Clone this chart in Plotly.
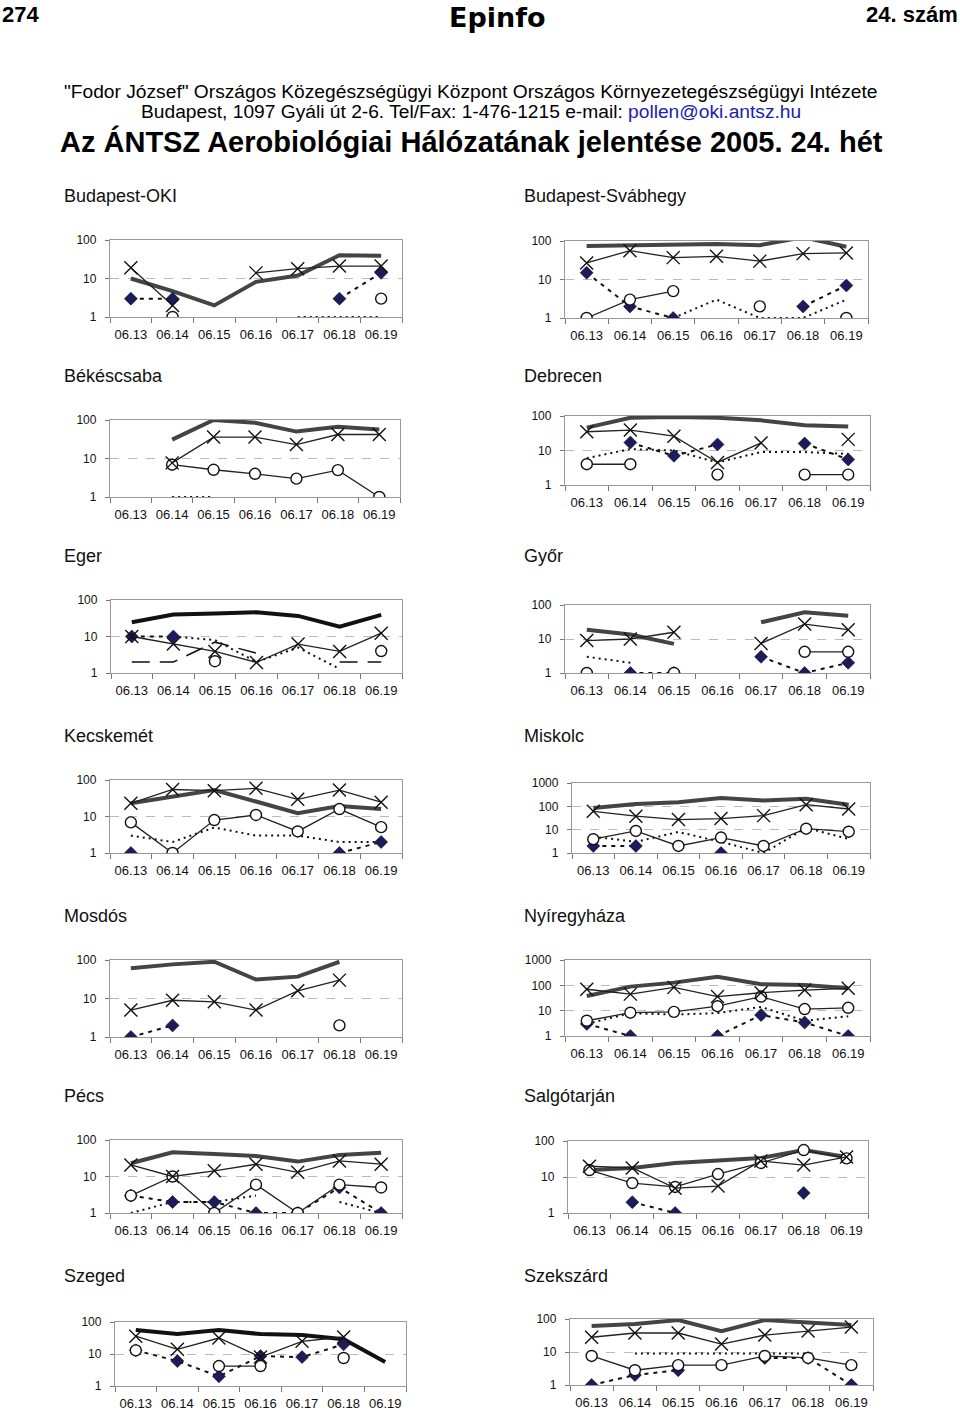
import plotly.graph_objects as go

DATES = ["06.13", "06.14", "06.15", "06.16", "06.17", "06.18", "06.19"]
N = None

# ---- data per station: thick (total), X, O, diamond, plain dotted ----
OKI_THICK = [10, 4.7, 2, 8.2, 12, 40, 39]
OKI_X = [19, 2, N, 14, 18, 21, 21]
OKI_O = [N, 1, N, N, N, N, 3]
OKI_D = [3, 3, N, N, N, 3, 14]
OKI_DOT = [N, N, N, N, 1, 1, 1]

SVAB_THICK = [74, 78, 78, 84, 78, 125, 71]
SVAB_X = [27, 56, 37, 40, 30, 47, 49]
SVAB_O = [1, 3, 5, N, 2, N, 1]
SVAB_D = [15, 2, 1, N, N, 2, 7]
SVAB_DOT = [N, N, 1, 3, 1, 1, 3]

BEK_THICK = [N, 31, 100, 85, 50, 67, 57]
BEK_X = [N, 7.7, 36, 36, 23, 42, 42]
BEK_O = [N, 6.9, 5.1, 4, 3, 5, 1]
BEK_D = [N, N, N, N, N, N, N]
BEK_DOT = [N, 1, 1, N, N, N, N]

DEB_THICK = [46, 89, 93, 89, 75, 54, 50]
DEB_X = [35, 39, 26, 4.5, 16.6, N, 21]
DEB_O = [4, 4, N, 2, N, 2, 2]
DEB_D = [N, 17, 7, 15, N, 16, 5.5]
DEB_DOT = [6, 11, 10, 4.5, 9, 9, 8]

EGER_THICK = [24.6, 40, 43, 46, 36.6, 18.7, 39]
EGER_X = [10, 6.2, 3.9, 1.95, 6.2, 3.9, 12.3]
EGER_O = [N, N, 2.1, N, N, N, 4]
EGER_D = [10, 10, N, N, N, N, N]
EGER_DOT = [N, 10, 8, 2, 5, 1.3, N]
EGER_LONG = [2, 2, 7, 3.5, N, 2, 2]

GYOR_THICK = [18.8, 13.5, 7.2, N, 31, 61, 48]
GYOR_X = [9, 10, 15.8, N, 7.4, 27.5, 18.8]
GYOR_O = [1, N, 1, N, N, 4.2, 4.2]
GYOR_D = [N, 1, 1, N, 3, 1, 2]
GYOR_DOT = [3, 2, N, N, N, N, N]

KECS_THICK = [23, 35, 53, 25.7, 12.3, 19.5, 16]
KECS_X = [23, 55, 51, 59, 29.6, 53, 24.6]
KECS_O = [6.9, 1, 8, 11, 3.9, 16, 5.1]
KECS_D = [1, N, N, N, N, 1, 2]
KECS_DOT = [3, 2, 5, 3, 3, 2, 2]

MISK_THICK = [85, 125, 150, 225, 180, 210, 118]
MISK_X = [61, 38, 27, 30, 40, 118, 77]
MISK_O = [3.9, 8.8, 2, 4.6, 2, 11, 8.2]
MISK_D = [2, 2, N, 1, N, N, N]
MISK_DOT = [5, 3, 8, 3, 1, 12, 4]

MOSD_THICK = [61, 77, 90, 31, 37, 90, N]
MOSD_X = [5, 9, 8.2, 5, 15.8, 30, N]
MOSD_O = [N, N, N, N, N, 2, N]
MOSD_D = [1, 2, N, N, N, N, N]
MOSD_DOT = [N, N, N, N, N, N, N]

NYIR_THICK = [38, 89, 128, 220, 110, 103, 76]
NYIR_X = [70, 45, 83, 36, 51, 65, 76]
NYIR_O = [4, 8.3, 9, 15, 36, 11.6, 13]
NYIR_D = [3, 1, N, 1, 6.7, 3.4, 1]
NYIR_DOT = [3, 8, 7, 8, 14, 4, 6]

PECS_THICK = [23, 46, 41.5, 36.6, 25.6, 39, 45]
PECS_X = [20.8, 10, 14.3, 21.7, 13, 26.7, 21.7]
PECS_O = [3, 10, 1, 6, 1, 6, 5]
PECS_D = [3, 2, 2, 1, 1, 5, 1]
PECS_DOT = [1, 2, 2, 3, N, 2, 1]

SALG_THICK = [15.6, 17.8, 24.5, 29.6, 33.6, 56, 36]
SALG_X = [20, 17.8, 4.9, 5.6, 27.8, 21.5, 36]
SALG_O = [15.6, 6.8, 5.3, 12.1, 24.5, 56, 33]
SALG_D = [N, 2, 1, N, N, 3.6, N]
SALG_DOT = [N, N, N, N, N, N, N]

SZEG_THICK = [56, 42, 56, 42, 39, 29, 5.6]
SZEG_X = [36, 14, 31.6, 8, 25, 34, N]
SZEG_O = [13, N, 4.2, 4.2, N, 7.5, N]
SZEG_D = [13, 6, 2, 8.6, 8, 20, N]
SZEG_DOT = [N, N, N, N, N, N, N]

SZEK_THICK = [61, 70, 93, 43, 93, 81, 66]
SZEK_X = [28, 37.6, 37.6, 17.4, 32.6, 43, 57]
SZEK_O = [7.6, 2.8, 4, 4, 7.6, 6.6, 4]
SZEK_D = [1, 2, 2.8, N, 6.6, 6.6, 1]
SZEK_DOT = [N, 9, 9, 9, 9, 9, N]

STATIONS = [
    ("Budapest-OKI", OKI_THICK, OKI_X, OKI_O, OKI_D, OKI_DOT),
    ("Budapest-Svábhegy", SVAB_THICK, SVAB_X, SVAB_O, SVAB_D, SVAB_DOT),
    ("Békéscsaba", BEK_THICK, BEK_X, BEK_O, BEK_D, BEK_DOT),
    ("Debrecen", DEB_THICK, DEB_X, DEB_O, DEB_D, DEB_DOT),
    ("Eger", EGER_THICK, EGER_X, EGER_O, EGER_D, EGER_DOT),
    ("Győr", GYOR_THICK, GYOR_X, GYOR_O, GYOR_D, GYOR_DOT),
    ("Kecskemét", KECS_THICK, KECS_X, KECS_O, KECS_D, KECS_DOT),
    ("Miskolc", MISK_THICK, MISK_X, MISK_O, MISK_D, MISK_DOT),
    ("Mosdós", MOSD_THICK, MOSD_X, MOSD_O, MOSD_D, MOSD_DOT),
    ("Nyíregyháza", NYIR_THICK, NYIR_X, NYIR_O, NYIR_D, NYIR_DOT),
    ("Pécs", PECS_THICK, PECS_X, PECS_O, PECS_D, PECS_DOT),
    ("Salgótarján", SALG_THICK, SALG_X, SALG_O, SALG_D, SALG_DOT),
    ("Szeged", SZEG_THICK, SZEG_X, SZEG_O, SZEG_D, SZEG_DOT),
    ("Szekszárd", SZEK_THICK, SZEK_X, SZEK_O, SZEK_D, SZEK_DOT),
]
DECADES = [2, 2, 2, 2, 2, 2, 2, 3, 2, 3, 2, 2, 2, 2]

# ---- layout geometry (pixels): left, right, top, bottom of plot areas ----
W, H = 960, 1412
FRAMES = [
    (110, 402, 240, 317), (565, 868, 241, 318),
    (110, 400, 420, 497), (565, 870, 416, 485),
    (111, 402, 600, 673), (565, 870, 605, 673),
    (110, 402, 780, 853), (572, 870, 783, 853),
    (110, 402, 960, 1037), (565, 870, 960, 1036),
    (110, 402, 1140, 1213), (568, 868, 1141, 1213),
    (115, 406, 1322, 1386), (570, 873, 1319, 1385),
]
TITLE_Y = [196, 376, 556, 736, 916, 1096, 1276]
THICK_COL = ["#444"] * 14
THICK_COL[4] = "#111"
THICK_COL[12] = "#111"

FONT = "Liberation Sans, Arial, sans-serif"
fig = go.Figure()

for i, (name, thick, xs, os_, ds, dots) in enumerate(STATIONS):
    k = "" if i == 0 else str(i + 1)
    xa, ya = "x" + k, "y" + k
    L, R, T, B = FRAMES[i]
    common = dict(x=DATES, xaxis=xa, yaxis=ya, showlegend=False, connectgaps=False, hoverinfo="skip")
    fig.add_trace(go.Scatter(y=thick, mode="lines", line=dict(color=THICK_COL[i], width=4), **common))
    fig.add_trace(go.Scatter(y=dots, mode="lines", line=dict(color="#111", width=2, dash="2px,4px"), **common))
    if name == "Eger":
        fig.add_trace(go.Scatter(y=EGER_LONG, mode="lines", line=dict(color="#111", width=1.5, dash="18px,10px"), **common))
    fig.add_trace(go.Scatter(y=ds, mode="lines+markers", line=dict(color="#111", width=2, dash="4px,5px"),
                             marker=dict(symbol="diamond", size=10, color="#1b1b5e", line=dict(color="#000", width=0.5)), **common))
    fig.add_trace(go.Scatter(y=os_, mode="lines+markers", line=dict(color="#222", width=1.3),
                             marker=dict(symbol="circle", size=11, color="white", line=dict(color="#111", width=1.4)), **common))
    fig.add_trace(go.Scatter(y=xs, mode="lines+markers", line=dict(color="#222", width=1.3),
                             marker=dict(symbol="x-thin", size=13, color="#111", line=dict(color="#111", width=1.4)), **common))

    dec = DECADES[i]
    tv = [10 ** j for j in range(dec + 1)]
    fig.update_layout(**{
        ("xaxis" + k): dict(domain=[L / W, R / W], anchor=ya, type="category", range=[-0.5, 6.5],
                            showline=True, linecolor="#999", linewidth=1.3, mirror=True,
                            ticks="outside", ticklen=5, tickcolor="#777", tickson="boundaries",
                            ticklabelstandoff=5, automargin=False, tickangle=0,
                            showgrid=False, tickfont=dict(family=FONT, size=13, color="#111"),
                            fixedrange=True),
        ("yaxis" + k): dict(domain=[1 - B / H, 1 - T / H], anchor=xa, type="log", range=[0, dec],
                            tickvals=tv, ticktext=[str(v) for v in tv],
                            showline=True, linecolor="#999", linewidth=1.3, mirror=True,
                            ticks="outside", ticklen=4, tickcolor="#777",
                            ticklabelstandoff=6, automargin=False,
                            showgrid=True, gridcolor="#bbb", griddash="dash", gridwidth=1,
                            zeroline=False, tickfont=dict(family=FONT, size=12, color="#111"),
                            fixedrange=True),
    })
    col = i % 2
    fig.add_annotation(text=name, xref="paper", yref="paper", x=(62 if col == 0 else 522) / W,
                       y=1 - TITLE_Y[i // 2] / H, xanchor="left", yanchor="middle", showarrow=False,
                       font=dict(family=FONT, size=18, color="#111"))

def txt(t, x, y, size, anchor="center", bold=False, family=FONT, color="#000"):
    fig.add_annotation(text=("<b>%s</b>" % t) if bold else t, xref="paper", yref="paper",
                       x=x / W, y=1 - y / H, xanchor=anchor, yanchor="middle", showarrow=False,
                       font=dict(family=family, size=size, color=color))

txt("274", 0, 14, 22, "left", True, "Liberation Sans Narrow, Liberation Sans")
txt("24. szám", 960, 14, 22, "right", True, "Liberation Sans Narrow, Liberation Sans")
txt("Epinfo", 497, 18, 27, "center", True, "DejaVu Sans")
txt('"Fodor József" Országos Közegészségügyi Központ Országos Környezetegészségügyi Intézete', 471, 91, 19.2)
txt('Budapest, 1097 Gyáli út 2-6. Tel/Fax: 1-476-1215 e-mail: <span style="color:#2020b0">pollen@oki.antsz.hu</span>',
    471, 112, 19.2)
txt("Az ÁNTSZ Aerobiológiai Hálózatának jelentése 2005. 24. hét", 471, 141, 29, bold=True)

fig.update_layout(width=W, height=H, margin=dict(l=0, r=0, t=0, b=0, pad=0, autoexpand=False),
                  paper_bgcolor="white", plot_bgcolor="white")
fig.write_html("out.html")
